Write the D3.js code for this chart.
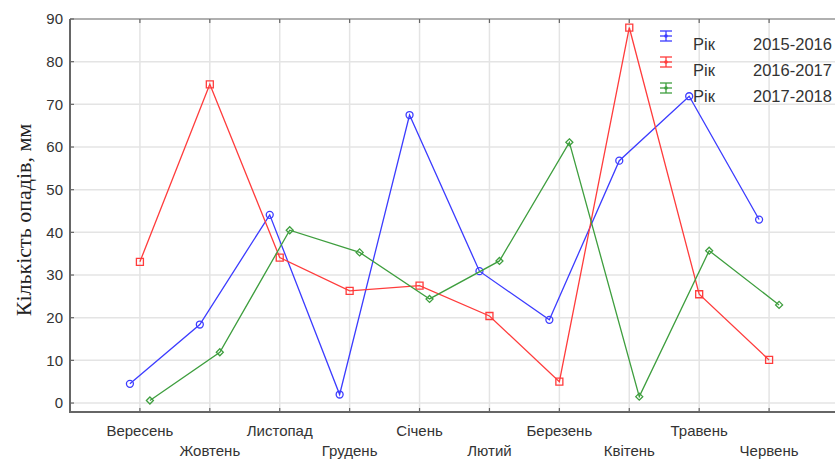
<!DOCTYPE html>
<html><head><meta charset="utf-8">
<script src="https://cdn.jsdelivr.net/npm/d3@7"></script>
<style>body{margin:0;background:#fff}svg{display:block}</style>
</head><body>
<svg id="c" width="835" height="464"></svg>
<script>
const months = ["Вересень","Жовтень","Листопад","Грудень","Січень","Лютий","Березень","Квітень","Травень","Червень"];
const s2015 = [4.5, 18.4, 44.1, 2.0, 67.5, 30.9, 19.5, 56.8, 71.9, 43.0];
const s2016 = [33.1, 74.7, 34.1, 26.3, 27.5, 20.4, 5.0, 88.0, 25.5, 10.1];
const s2017 = [0.6, 11.9, 40.5, 35.3, 24.4, 33.3, 61.1, 1.5, 35.7, 23.0];
const seriesNames = ["2015-2016","2016-2017","2017-2018"];
const yTicks = [0,10,20,30,40,50,60,70,80,90];
const yTitle = "Кількість опадів, мм";

const series = [
  {name: seriesNames[0], values: s2015, color: "#3c3cff", marker: "circle", off: -0.143},
  {name: seriesNames[1], values: s2016, color: "#ff3c3c", marker: "square", off: 0},
  {name: seriesNames[2], values: s2017, color: "#3e9e3e", marker: "diamond", off: 0.143}
];

const svg = d3.select("#c");
const L = 70, R = 835, T = 19, B = 412;
const x = d3.scaleLinear().domain([-1, 10]).range([L, 839]);
const y = d3.scaleLinear().domain([-2.1, 90]).range([B, T]);

// grid
const g = svg.append("g");
g.selectAll(".hg").data(yTicks).join("line")
  .attr("x1", L).attr("x2", R).attr("y1", d => y(d)).attr("y2", d => y(d))
  .attr("stroke", "#e4e4e4").attr("stroke-width", 1.5);
g.selectAll(".vg").data(months).join("line")
  .attr("x1", (d,i) => x(i)).attr("x2", (d,i) => x(i)).attr("y1", T).attr("y2", B)
  .attr("stroke", "#e4e4e4").attr("stroke-width", 1.5);

// frame
svg.append("line").attr("x1", L).attr("x2", R).attr("y1", T).attr("y2", T).attr("stroke", "#777").attr("stroke-width", 1.2);
svg.append("line").attr("x1", L).attr("x2", L).attr("y1", T).attr("y2", B+1).attr("stroke", "#666").attr("stroke-width", 2);
svg.append("line").attr("x1", L-1).attr("x2", R).attr("y1", B).attr("y2", B).attr("stroke", "#666").attr("stroke-width", 2);

// ticks
svg.selectAll(".yt").data(yTicks).join("line")
  .attr("x1", L).attr("x2", L+4).attr("y1", d => y(d)).attr("y2", d => y(d))
  .attr("stroke", "#666").attr("stroke-width", 1.2);
svg.selectAll(".xt").data(months).join("line")
  .attr("x1", (d,i) => x(i)).attr("x2", (d,i) => x(i)).attr("y1", B).attr("y2", B-4)
  .attr("stroke", "#666").attr("stroke-width", 1.2);
svg.selectAll(".xtt").data(months).join("line")
  .attr("x1", (d,i) => x(i)).attr("x2", (d,i) => x(i)).attr("y1", T).attr("y2", T+4)
  .attr("stroke", "#666").attr("stroke-width", 1.2);

// tick labels
svg.selectAll(".yl").data(yTicks).join("text")
  .attr("x", 63).attr("y", d => y(d)).attr("dy", "0.36em")
  .attr("text-anchor", "end").attr("font-family", "Liberation Sans, Arial, sans-serif")
  .attr("font-size", 15).attr("fill", "#333").text(d => d);
svg.selectAll(".xl").data(months).join("text")
  .attr("x", (d,i) => x(i)).attr("y", (d,i) => i % 2 === 0 ? 436 : 456)
  .attr("text-anchor", "middle").attr("font-family", "Liberation Sans, Arial, sans-serif")
  .attr("font-size", 15).attr("fill", "#333").text(d => d);

// y title
svg.append("text").attr("transform", "translate(31,220) rotate(-90)")
  .attr("text-anchor", "middle").attr("font-family", "Liberation Serif, Times New Roman, serif")
  .attr("font-size", 22).attr("fill", "#222").text(yTitle);

// lines and markers
const line = d3.line();
series.forEach(s => {
  const pts = s.values.map((v,i) => [x(i + s.off), y(v)]);
  svg.append("path").attr("d", line(pts)).attr("fill", "none")
    .attr("stroke", s.color).attr("stroke-width", 1.3);
  const m = svg.append("g").selectAll("path").data(pts).join("path")
    .attr("transform", d => `translate(${d[0]},${d[1]})`)
    .attr("fill", "none").attr("stroke", s.color).attr("stroke-width", 1.3);
  if (s.marker === "circle") m.attr("d", d3.symbol(d3.symbolCircle, 38)());
  else if (s.marker === "square") m.attr("d", "M-3.5,-3.5H3.5V3.5H-3.5Z");
  else m.attr("d", "M0,-3.5L3.5,0L0,3.5L-3.5,0Z");
});

// legend
const legY = [36, 62, 88];
series.forEach((s, k) => {
  const cx = 666, cy = legY[k];
  const lg = svg.append("g").attr("stroke", s.color).attr("stroke-width", 1.3);
  lg.append("line").attr("x1", cx).attr("x2", cx).attr("y1", cy-5).attr("y2", cy+5);
  [-5, 0, 5].forEach(o => lg.append("line").attr("x1", cx-6).attr("x2", cx+6).attr("y1", cy+o).attr("y2", cy+o));
  svg.append("circle").attr("cx", cx).attr("cy", cy).attr("r", 1.8).attr("fill", s.color);
  svg.append("text").attr("x", 693).attr("y", cy + 14).attr("font-family", "Liberation Sans, Arial, sans-serif")
    .attr("font-size", 16.5).attr("fill", "#333").text("Рік");
  svg.append("text").attr("x", 753).attr("y", cy + 14).attr("font-family", "Liberation Sans, Arial, sans-serif")
    .attr("font-size", 16.5).attr("fill", "#333").text(s.name);
});
</script>
</body></html>
